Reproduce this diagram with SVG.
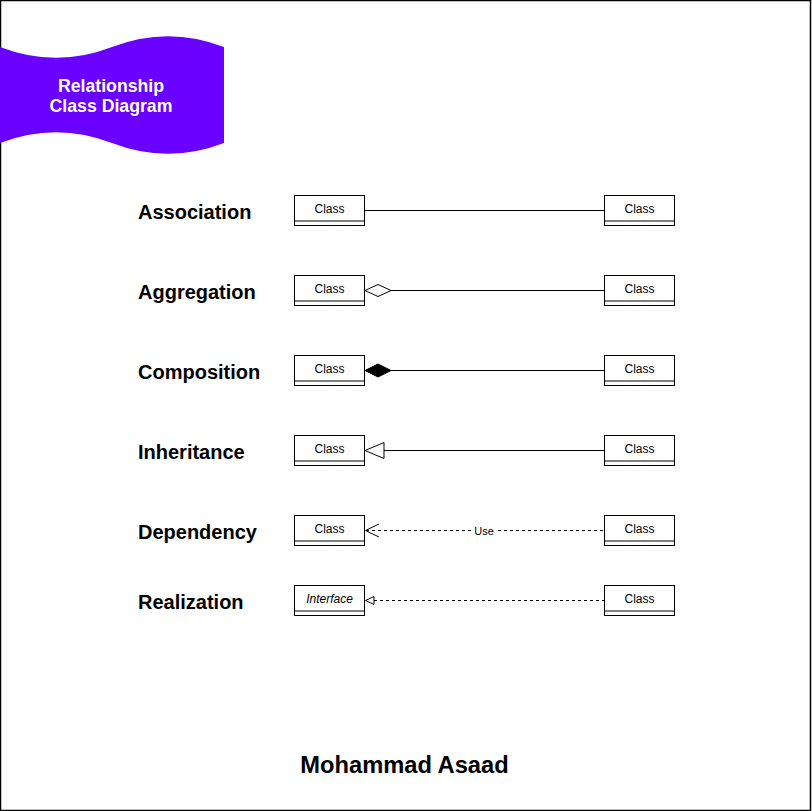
<svg xmlns="http://www.w3.org/2000/svg" width="812" height="811" viewBox="0 0 812 811">
<style>
.lbl{font-family:"Liberation Sans",Arial,sans-serif;font-weight:bold;font-size:20px;fill:#000}
.cls rect{fill:#fff;stroke:#000;stroke-width:1}
.cls line{stroke:#000;stroke-width:1}
.ct{font-family:"Liberation Sans",Arial,sans-serif;font-size:12px;fill:#000;text-anchor:middle}
.edge{stroke:#000;stroke-width:1;fill:none}
.dash{stroke-dasharray:3 3}
</style>
<rect x="0.5" y="0.5" width="810" height="810" fill="#fff" stroke="#000" stroke-width="1.5"/>
<g id="banner">
<path d="M 0 47 Q 56 68.6 112 47 Q 168 25.4 224 47 L 224 143 Q 168 164.6 112 143 Q 56 121.4 0 143 Z" fill="#6a00ff"/>
<text x="111" y="91.5" font-family="Liberation Sans,Arial,sans-serif" font-weight="bold" font-size="17.7" fill="#fff" text-anchor="middle">Relationship</text>
<text x="111" y="111.5" font-family="Liberation Sans,Arial,sans-serif" font-weight="bold" font-size="17.7" fill="#fff" text-anchor="middle">Class Diagram</text>
</g>
<g id="labels">
<text class="lbl" x="138" y="218.5">Association</text>
<text class="lbl" x="138" y="298.5">Aggregation</text>
<text class="lbl" x="138" y="378.5">Composition</text>
<text class="lbl" x="138" y="458.5">Inheritance</text>
<text class="lbl" x="138" y="538.5">Dependency</text>
<text class="lbl" x="138" y="608.5">Realization</text>
</g>
<g id="connectors">
<line class="edge" x1="364.5" y1="210.5" x2="604.5" y2="210.5"/>
<line class="edge" x1="391" y1="290.5" x2="604.5" y2="290.5"/>
<path d="M 365 290.5 L 378 284.5 L 391 290.5 L 378 296.5 Z" fill="#fff" stroke="#000"/>
<line class="edge" x1="391" y1="370.5" x2="604.5" y2="370.5"/>
<path d="M 365 370.5 L 378 364 L 391 370.5 L 378 377 Z" fill="#000" stroke="#000"/>
<line class="edge" x1="384" y1="450.5" x2="604.5" y2="450.5"/>
<path d="M 365 450.5 L 384 442.5 L 384 458.5 Z" fill="#fff" stroke="#000"/>
<line class="edge dash" x1="366" y1="530.5" x2="604.5" y2="530.5"/>
<path class="edge" d="M 379 524 L 365.5 530.5 L 379 537"/>
<rect x="473" y="523" width="22" height="14" fill="#fff"/>
<text x="484" y="534.5" font-family="Liberation Sans,Arial,sans-serif" font-size="11" text-anchor="middle" fill="#000">Use</text>
<line class="edge dash" x1="374" y1="600.5" x2="604.5" y2="600.5"/>
<path d="M 365.5 600.5 L 374 596.5 L 374 604.5 Z" fill="#fff" stroke="#000"/>
</g>
<g id="class-assoc-left" class="cls"><rect x="294.5" y="195.5" width="70" height="30"/><line x1="294.5" y1="221" x2="364.5" y2="221"/><text class="ct" x="329.5" y="212.5">Class</text></g>
<g id="class-assoc-right" class="cls"><rect x="604.5" y="195.5" width="70" height="30"/><line x1="604.5" y1="221" x2="674.5" y2="221"/><text class="ct" x="639.5" y="212.5">Class</text></g>
<g id="class-aggr-left" class="cls"><rect x="294.5" y="275.5" width="70" height="30"/><line x1="294.5" y1="301" x2="364.5" y2="301"/><text class="ct" x="329.5" y="292.5">Class</text></g>
<g id="class-aggr-right" class="cls"><rect x="604.5" y="275.5" width="70" height="30"/><line x1="604.5" y1="301" x2="674.5" y2="301"/><text class="ct" x="639.5" y="292.5">Class</text></g>
<g id="class-comp-left" class="cls"><rect x="294.5" y="355.5" width="70" height="30"/><line x1="294.5" y1="381" x2="364.5" y2="381"/><text class="ct" x="329.5" y="372.5">Class</text></g>
<g id="class-comp-right" class="cls"><rect x="604.5" y="355.5" width="70" height="30"/><line x1="604.5" y1="381" x2="674.5" y2="381"/><text class="ct" x="639.5" y="372.5">Class</text></g>
<g id="class-inh-left" class="cls"><rect x="294.5" y="435.5" width="70" height="30"/><line x1="294.5" y1="461" x2="364.5" y2="461"/><text class="ct" x="329.5" y="452.5">Class</text></g>
<g id="class-inh-right" class="cls"><rect x="604.5" y="435.5" width="70" height="30"/><line x1="604.5" y1="461" x2="674.5" y2="461"/><text class="ct" x="639.5" y="452.5">Class</text></g>
<g id="class-dep-left" class="cls"><rect x="294.5" y="515.5" width="70" height="30"/><line x1="294.5" y1="541" x2="364.5" y2="541"/><text class="ct" x="329.5" y="532.5">Class</text></g>
<g id="class-dep-right" class="cls"><rect x="604.5" y="515.5" width="70" height="30"/><line x1="604.5" y1="541" x2="674.5" y2="541"/><text class="ct" x="639.5" y="532.5">Class</text></g>
<g id="interface-real-left" class="cls"><rect x="294.5" y="585.5" width="70" height="30"/><line x1="294.5" y1="611" x2="364.5" y2="611"/><text class="ct" x="329.5" y="602.5" font-style="italic">Interface</text></g>
<g id="class-real-right" class="cls"><rect x="604.5" y="585.5" width="70" height="30"/><line x1="604.5" y1="611" x2="674.5" y2="611"/><text class="ct" x="639.5" y="602.5">Class</text></g>
<g id="author"><text x="404.5" y="773" font-family="Liberation Sans,Arial,sans-serif" font-weight="bold" font-size="23.7" text-anchor="middle" fill="#000">Mohammad Asaad</text></g>
</svg>
